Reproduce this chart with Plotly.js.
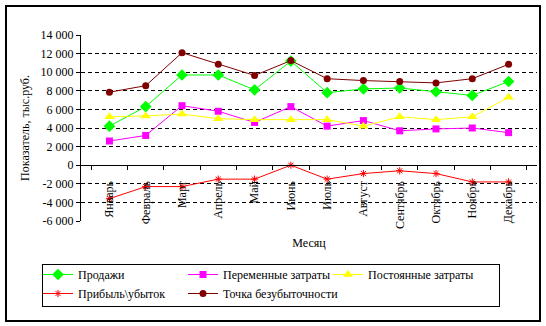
<!DOCTYPE html>
<html>
<head>
<meta charset="utf-8">
<script src="https://cdn.plot.ly/plotly-3.0.1.min.js"></script>
<style>
  html, body { margin: 0; padding: 0; background: #fff; }
  #wrap { position: relative; width: 546px; height: 326px; }
  #chart { width: 546px; height: 326px; }
  #frame { position: absolute; left: 5px; top: 5px; width: 532px; height: 313px;
           border: 2px solid #000; pointer-events: none; }
  #legbox { position: absolute; left: 42px; top: 264px; width: 456px; height: 41px;
            border: 1px solid #000; pointer-events: none; }
</style>
</head>
<body>
<div id="wrap">
  <div id="chart"></div>
  <div id="frame"></div>
  <div id="legbox"></div>
</div>
<script>
// ---- data ----
const months = ['Январь','Февраль','Март','Апрель','Май','Июнь','Июль','Август','Сентябрь','Октябрь','Ноябрь','Декабрь'];
const sales      = [4200, 6300, 9700, 9700, 8100, 11200, 7800, 8200, 8300, 7900, 7500, 9000];
const varCosts   = [2600, 3200, 6400, 5800, 4600, 6300, 4200, 4800, 3700, 3900, 4000, 3500];
const fixedCosts = [5200, 5300, 5500, 5000, 4900, 4900, 4900, 4200, 5200, 4900, 5200, 7300];
const profit     = [-3600, -2300, -2300, -1500, -1500, 0, -1500, -900, -600, -900, -1800, -1800];
const breakeven  = [7850, 8550, 12100, 10850, 9650, 11250, 9300, 9100, 9000, 8850, 9300, 10850];

const yTickVals = [-6000, -4000, -2000, 0, 2000, 4000, 6000, 8000, 10000, 12000, 14000];
const yTickText = ['-6 000', '-4 000', '-2 000', '0', '2 000', '4 000', '6 000', '8 000', '10 000', '12 000', '14 000'];
const gridVals  = [-4000, -2000, 2000, 4000, 6000, 8000, 10000, 12000];

const FONT = 'Liberation Serif';

function series(name, y, color, symbol, size, legend) {
  return {
    type: 'scatter', mode: 'lines+markers', name: name, legend: legend,
    x: months, y: y,
    line: { color: color, width: 1 },
    marker: { color: color, symbol: symbol, size: size,
              line: { color: color, width: symbol === 'asterisk-open' ? 1 : 0 } }
  };
}

const traces = [
  series('Продажи', sales, '#00ff00', 'diamond', 9, 'legend'),
  series('Переменные затраты', varCosts, '#ff00ff', 'square', 7, 'legend2'),
  series('Постоянные затраты', fixedCosts, '#ffff00', 'triangle-up', 9, 'legend3'),
  series('Прибыль\\убыток', profit, '#ff0000', 'asterisk-open', 6, 'legend'),
  series('Точка безубыточности', breakeven, '#800000', 'circle', 7, 'legend2'),
  { type: 'scatter', x: [], y: [], yaxis: 'y2', showlegend: false, hoverinfo: 'skip' }
];

const yRange = [-6000, 14000];

// each legend column is a horizontal legend whose wide entries wrap into rows
function legendAt(xpx, ew) {
  return {
    orientation: 'h',
    xref: 'container', yref: 'container',
    x: xpx / 546, y: 1 - 260 / 326, xanchor: 'left', yanchor: 'top',
    entrywidth: ew, entrywidthmode: 'pixels',
    borderwidth: 0, bgcolor: 'rgba(0,0,0,0)',
    font: { family: FONT, size: 12, color: '#000' },
    traceorder: 'normal'
  };
}

const layout = {
  width: 546, height: 326,
  margin: { l: 81, r: 9, t: 35, b: 105 },
  paper_bgcolor: '#ffffff', plot_bgcolor: '#ffffff',
  font: { family: FONT, size: 12, color: '#000' },
  showlegend: true,
  xaxis: {
    type: 'category',
    anchor: 'free',
    position: (0 - yRange[0]) / (yRange[1] - yRange[0]),
    showline: true, linecolor: '#000', linewidth: 1,
    ticks: 'outside', ticklen: 4, tickcolor: '#000', tickson: 'boundaries',
    tickangle: -90, ticklabelstandoff: 10,
    showgrid: false, zeroline: false,
    tickfont: { family: FONT, size: 12, color: '#000' },
    title: { text: 'Месяц', font: { family: FONT, size: 12, color: '#000' }, standoff: 10 },
    automargin: false
  },
  yaxis: {
    range: yRange,
    tickvals: yTickVals, ticktext: yTickText,
    showline: true, linecolor: '#000', linewidth: 1,
    ticks: 'outside', ticklen: 4, tickcolor: '#000',
    showgrid: false, zeroline: false,
    tickfont: { family: FONT, size: 12, color: '#000' },
    title: { text: 'Показатель, тыс.руб.', font: { family: FONT, size: 12, color: '#000' }, standoff: 8 },
    automargin: false
  },
  yaxis2: {
    overlaying: 'y', range: yRange,
    tickvals: gridVals, showticklabels: false, ticks: '',
    showgrid: true, gridcolor: '#000', gridwidth: 1, griddash: '4px,3px',
    showline: false, zeroline: false
  },
  legend: legendAt(38, 200),
  legend2: legendAt(183, 200),
  legend3: legendAt(328, 130)
};

Plotly.newPlot('chart', traces, layout, { displayModeBar: false, staticPlot: true });
</script>
</body>
</html>
